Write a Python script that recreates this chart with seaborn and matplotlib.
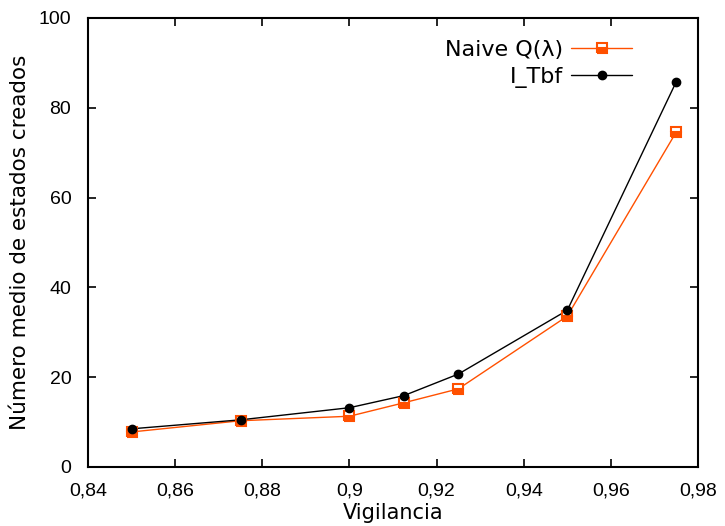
import pandas as pd
import matplotlib
matplotlib.use("Agg")
import matplotlib.pyplot as plt
import seaborn as sns
from matplotlib.ticker import FuncFormatter

# === Data ===
vigilancia = [0.85, 0.875, 0.9, 0.9125, 0.925, 0.95, 0.975]
naive_q = [7.8, 10.3, 11.3, 14.3, 17.4, 33.6, 74.6]
i_tbf = [8.5, 10.5, 13.2, 15.9, 20.7, 34.9, 85.8]
series_names = ["Naive Q(λ)", "I_Tbf"]

df = pd.DataFrame({
    "Vigilancia": vigilancia * 2,
    "Estados": naive_q + i_tbf,
    "Serie": [series_names[0]] * len(vigilancia) + [series_names[1]] * len(vigilancia),
})

# === Style ===
sns.set_style("ticks")
plt.rcParams["font.family"] = ["DejaVu Sans"]
plt.rcParams["text.color"] = "black"
plt.rcParams["axes.labelcolor"] = "black"
plt.rcParams["xtick.color"] = "black"
plt.rcParams["ytick.color"] = "black"
plt.rcParams["axes.edgecolor"] = "black"

fig = plt.figure(figsize=(7.25, 5.26), dpi=100)
ax = fig.add_axes([0.1214, 0.1122, 0.8414, 0.8536])

orange = "#ff5000"
palette = {series_names[0]: orange, series_names[1]: "black"}
sns.lineplot(data=df, x="Vigilancia", y="Estados", hue="Serie", palette=palette,
             linewidth=1, legend=False, ax=ax)

# markers drawn on top
sq_style = dict(marker="s", ms=6.5, mfc=orange, mfcalt="white", fillstyle="bottom",
                mec=orange, mew=1.5)
ax.plot(vigilancia, naive_q, ls="none", color=orange, **sq_style)
ax.plot(vigilancia, i_tbf, ls="none", marker="o", ms=6, color="black")

# legend handles
h1, = ax.plot([], [], color=orange, lw=1, **sq_style)
h2, = ax.plot([], [], color="black", lw=1, marker="o", ms=6)
ax.legend([h1, h2], series_names, loc="upper right", frameon=False, markerfirst=False,
          fontsize=16, handlelength=2.75, handletextpad=0.35,
          bbox_to_anchor=(0.925, 0.995), labelspacing=0.3)

ax.set_xlim(0.84, 0.98)
ax.set_ylim(0, 100)
ax.set_xticks([0.84, 0.86, 0.88, 0.9, 0.92, 0.94, 0.96, 0.98])
ax.set_yticks([0, 20, 40, 60, 80, 100])
ax.xaxis.set_major_formatter(FuncFormatter(lambda v, p: f"{v:.2f}".rstrip("0").replace(".", ",")))
ax.tick_params(direction="in", top=True, right=True, length=6, width=1.2,
               labelsize=14, labelfontfamily="Liberation Sans")
ax.tick_params(axis="x", pad=11)
ax.tick_params(axis="y", pad=12)
for s in ax.spines.values():
    s.set_linewidth(1.5)

ax.set_xlabel("Vigilancia", fontsize=15, labelpad=3)
ax.set_ylabel("Número medio de estados creados", fontsize=15.5, labelpad=6)

fig.savefig("out.png", dpi=100)
plt.close(fig)
